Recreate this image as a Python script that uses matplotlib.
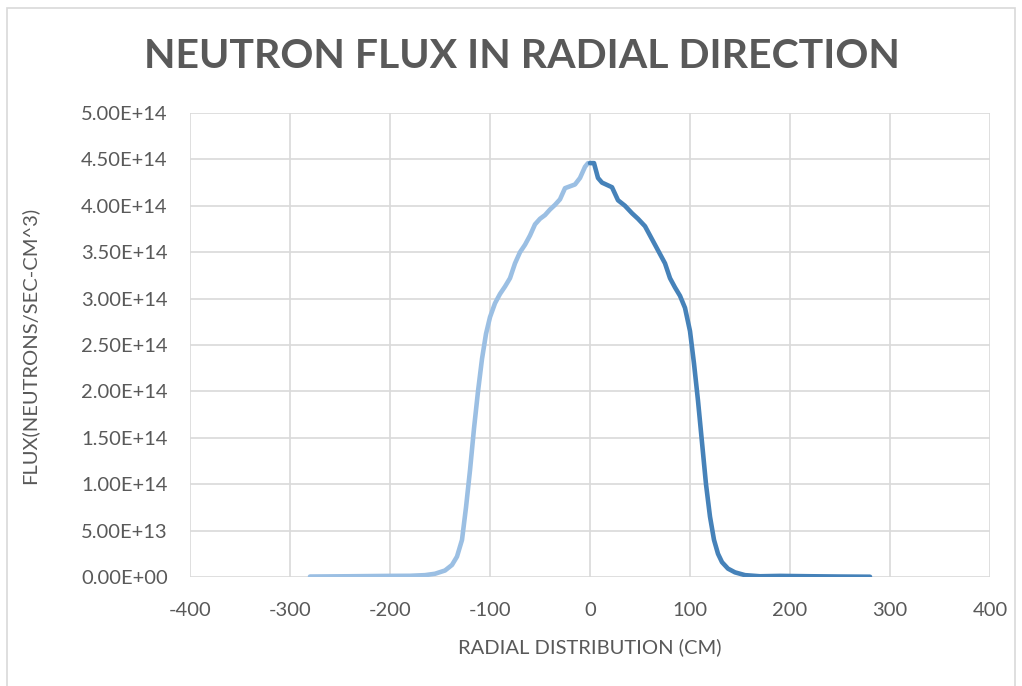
import numpy as np
import matplotlib.pyplot as plt
from matplotlib.patches import Rectangle
from matplotlib.ticker import FuncFormatter

# left half of the profile (light blue series), flux in 1e14 n/sec-cm^3
x_left = [-280, -240, -200, -180, -165, -155, -145, -138, -133, -128, -124, -120,
          -116, -112, -108, -104, -100, -95, -90, -85, -80, -75, -70, -65, -60,
          -55, -50, -45, -40, -35, -30, -25, -20, -15, -10, -5, -2]
y_left = [0.005, 0.008, 0.012, 0.013, 0.02, 0.035, 0.07, 0.13, 0.22, 0.4, 0.75, 1.15,
          1.6, 2.0, 2.35, 2.62, 2.8, 2.95, 3.05, 3.13, 3.22, 3.38, 3.5, 3.58, 3.68,
          3.8, 3.86, 3.9, 3.96, 4.01, 4.07, 4.19, 4.21, 4.23, 4.3, 4.42, 4.46]

# right half of the profile (dark blue series)
x_right = [0, 4, 8, 12, 18, 22, 28, 35, 42, 48, 55, 60, 65, 70, 75, 80, 85, 90,
           95, 100, 104, 108, 112, 116, 120, 124, 128, 132, 138, 145, 155, 170,
           190, 220, 250, 280]
y_right = [4.46, 4.46, 4.3, 4.25, 4.22, 4.2, 4.06, 4.0, 3.92, 3.86, 3.78, 3.68,
           3.58, 3.48, 3.38, 3.22, 3.12, 3.03, 2.9, 2.65, 2.3, 1.9, 1.45, 1.0,
           0.65, 0.4, 0.25, 0.16, 0.09, 0.05, 0.02, 0.008, 0.012, 0.008, 0.005, 0.003]

scale = 1e14
grey = '#595959'
plt.rcParams['font.family'] = ['Lato', 'DejaVu Sans']
plt.rcParams['axes.unicode_minus'] = False

W, H = 1022, 686
fig = plt.figure(figsize=(W / 100, H / 100), dpi=100)
# chart area border (bottom edge falls outside the picture)
fig.patches.append(Rectangle((7 / W, -0.01), 1008 / W, 1.01 - 8 / H, transform=fig.transFigure,
                             fill=False, edgecolor='#D9D9D9', linewidth=1.2))
ax = fig.add_axes([190 / W, 1 - 577 / H, 800 / W, 464 / H])

ax.plot(x_left, np.array(y_left) * scale, color='#9BBFE3', linewidth=3.3,
        solid_capstyle='round', solid_joinstyle='round', zorder=3)
ax.plot(x_right, np.array(y_right) * scale, color='#4682B9', linewidth=3.3,
        solid_capstyle='round', solid_joinstyle='round', zorder=3)

ax.set_xlim(-400, 400)
ax.set_ylim(0, 5e14)
ax.set_xticks(np.arange(-400, 401, 100))
ax.set_yticks(np.arange(0, 5.01e14, 0.5e14))
ax.yaxis.set_major_formatter(FuncFormatter(lambda v, p: f'{v:.2E}'))
ax.grid(True, color='#D9D9D9', linewidth=1.2)
ax.set_axisbelow(True)
for s in ax.spines.values():
    s.set_visible(False)
ax.tick_params(length=0, labelsize=14.5, labelcolor=grey)
ax.tick_params(axis='y', pad=16)
ax.tick_params(axis='x', pad=18)

ax.set_xlabel('RADIAL DISTRIBUTION (CM)', fontsize=14.5, color=grey)
ax.xaxis.set_label_coords(0.5, -(638 - 577) / 464)
ax.set_ylabel('FLUX(NEUTRONS/SEC-CM^3)', fontsize=14.5, color=grey)
ax.yaxis.set_label_coords(-(190 - 38) / 800, 0.5)
fig.text(522 / W, 1 - 56 / H, 'NEUTRON FLUX IN RADIAL DIRECTION', ha='center', va='center',
         fontsize=29.5, fontweight='bold', color=grey)

fig.savefig('out.png', dpi=100)
